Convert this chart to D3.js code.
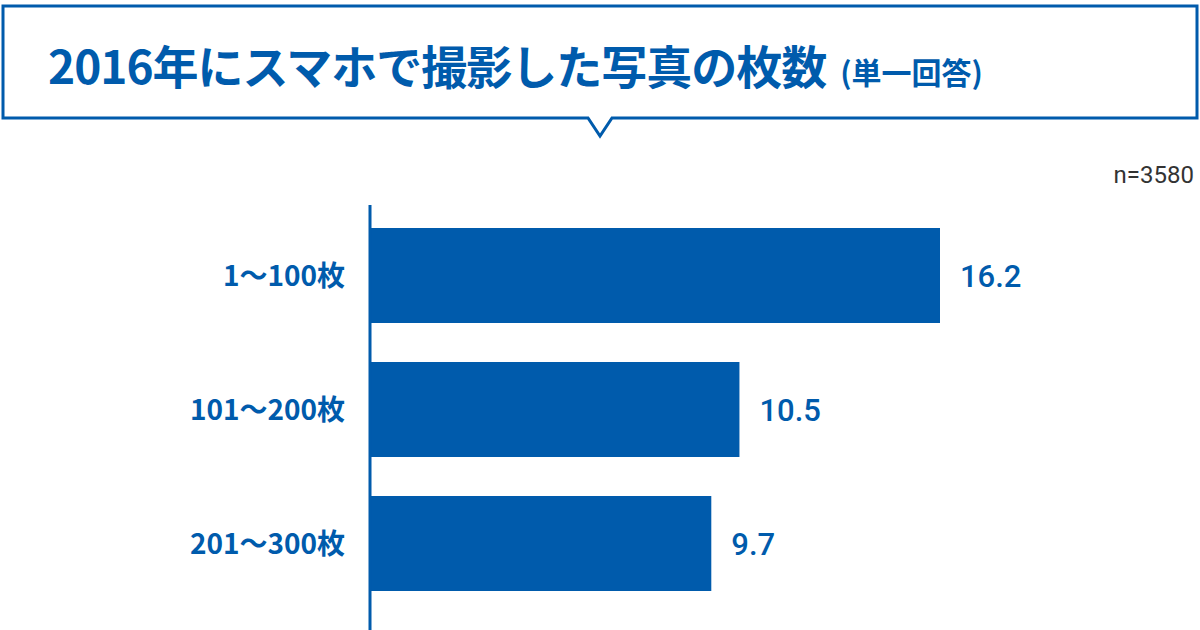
<!DOCTYPE html><html><head><meta charset="utf-8"><script src="https://cdn.jsdelivr.net/npm/d3@7"></script>
<style>body{margin:0;background:#fff}</style></head><body><svg id="c" width="1200" height="630"></svg><script>
const categories=["1〜100枚","101〜200枚","201〜300枚"];
const values=[16.2,10.5,9.7];
const sampleLabel="n=3580";
const blue="#005bac";
const svg=d3.select("#c");
svg.append("path").attr("d","M3,6 H1197 V118 H612 L600,136 L588,118 H3 Z").attr("fill","#fff").attr("stroke",blue).attr("stroke-width",3);
const t=svg.append("text").attr("x",48).attr("y",84).attr("fill",blue).attr("font-family","Noto Sans CJK JP").attr("font-weight",700);
t.append("tspan").attr("font-size",46).attr("letter-spacing",-1).text("2016年にスマホで撮影した写真の枚数");
t.append("tspan").attr("font-size",30).attr("dx",14).text("(単一回答)");
svg.append("text").attr("x",1194).attr("y",183).attr("text-anchor","end").attr("font-family","Roboto").attr("font-size",24).attr("fill","#333").text(sampleLabel);
const x=d3.scaleLinear().domain([0,16.2]).range([370,940]);
const y=d3.scaleBand().domain(categories).range([228,630]).paddingInner(0.29).paddingOuter(0);
const bh=95;
svg.selectAll("rect.bar").data(values).join("rect").attr("class","bar")
 .attr("x",x(0)).attr("y",(d,i)=>228+i*134).attr("width",d=>x(d)-x(0)).attr("height",bh).attr("fill",blue);
svg.append("line").attr("x1",370).attr("x2",370).attr("y1",205).attr("y2",630).attr("stroke",blue).attr("stroke-width",3);
svg.selectAll("text.cat").data(categories).join("text").attr("class","cat")
 .attr("x",345).attr("y",(d,i)=>228+i*134+bh/2+10).attr("text-anchor","end").attr("fill",blue)
 .attr("font-family","Noto Sans CJK JP").attr("font-weight",700).attr("font-size",28).text(d=>d);
svg.selectAll("text.val").data(values).join("text").attr("class","val")
 .attr("x",d=>x(d)+20).attr("y",(d,i)=>228+i*134+bh/2+11).attr("fill",blue)
 .attr("font-family","Roboto").attr("font-weight",500).attr("font-size",31).text(d=>d.toFixed(1));
</script></body></html>
